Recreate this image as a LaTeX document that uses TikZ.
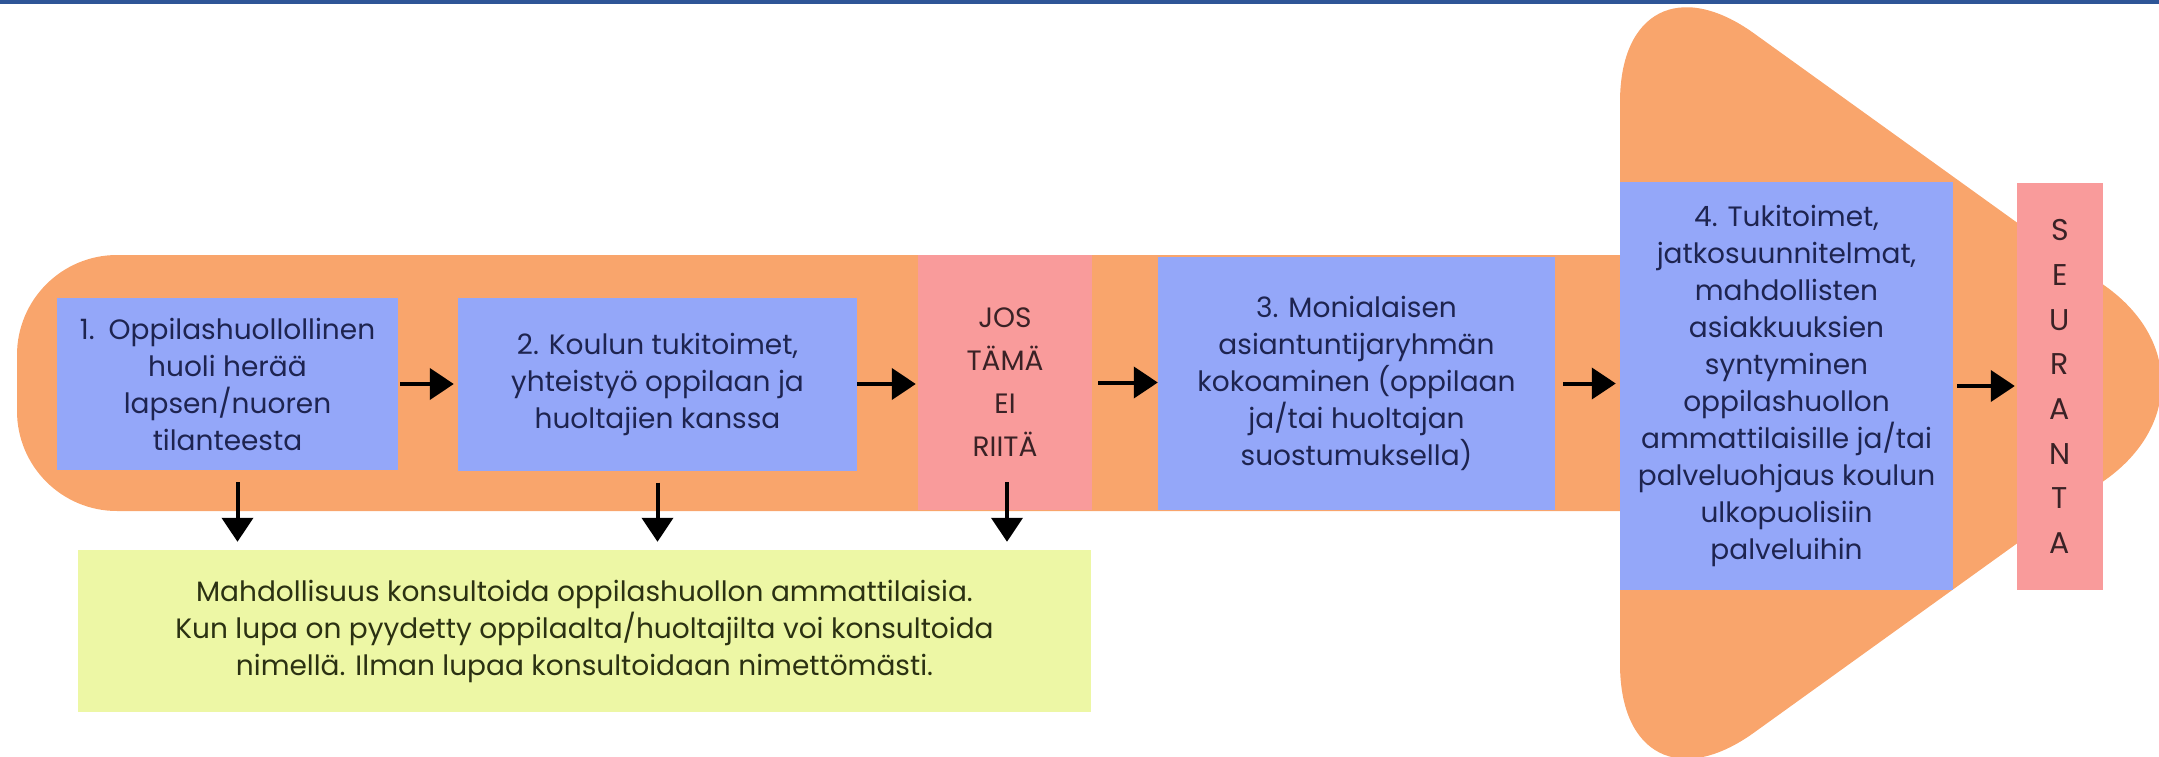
\documentclass[tikz,border=0pt]{standalone}
\usepackage{fontspec}
\setmainfont{Poppins}
\usetikzlibrary{arrows.meta,calc}
\definecolor{band}{HTML}{F9A56C}
\definecolor{stepblue}{HTML}{94A7F9}
\definecolor{stoppink}{HTML}{F99B9B}
\definecolor{notegreen}{HTML}{EDF7A5}
\definecolor{navy}{HTML}{1E2450}
\definecolor{maroon}{HTML}{3A2226}
\definecolor{olive}{HTML}{2B3112}
\definecolor{topline}{HTML}{2E5597}
\begin{document}
\begin{tikzpicture}[x=1pt,y=-1pt,>={Triangle[length=24pt,width=31pt]},
  blu/.style={fill=stepblue,text=navy,align=center,inner sep=0pt,font=\fontsize{28}{37}\selectfont},
  pnk/.style={fill=stoppink,text=maroon,align=center,inner sep=0pt},
  arr/.style={->,line width=4pt}]
\useasboundingbox (0,0) rectangle (2159,757);
\fill[topline] (0,0) rectangle (2159,4);
\fill[band,rounded corners=100] (17,255) rectangle (1800,511);
\fill[band,rounded corners=165] (1620,383) -- (1620,-63) -- (2240,383) -- (1620,829) -- cycle;
\node (b1) at (227.5,384)[blu,minimum width=341,minimum height=172]{1.\hspace{0.5em}Oppilashuollollinen\\huoli herää\\lapsen/nuoren\\tilanteesta};
\node (b2) at (657.5,384)[blu,minimum width=399,minimum height=173]{2. Koulun tukitoimet,\\yhteistyö oppilaan ja\\huoltajien kanssa};
\node (jos) at (1005,382.5)[pnk,minimum width=174,minimum height=255,font=\fontsize{28}{43}\selectfont]{JOS\\TÄMÄ\\EI\\RIITÄ};
\node (b3) at (1356.5,383.5)[blu,minimum width=397,minimum height=253]{3. Monialaisen\\asiantuntijaryhmän\\kokoaminen (oppilaan\\ja/tai huoltajan\\suostumuksella)};
\node (b4) at (1786.5,386)[blu,minimum width=333,minimum height=408]{4. Tukitoimet,\\jatkosuunnitelmat,\\mahdollisten\\asiakkuuksien\\syntyminen\\oppilashuollon\\ammattilaisille ja/tai\\palveluohjaus koulun\\ulkopuolisiin\\palveluihin};
\node (seur) at (2060,386.5)[pnk,minimum width=86,minimum height=407,font=\fontsize{30}{44.7}\selectfont]{S\\E\\U\\R\\A\\N\\T\\A};
\node (note) at (584.5,631)[fill=notegreen,text=olive,align=center,minimum width=1013,minimum height=162,font=\fontsize{28}{37}\selectfont]{Mahdollisuus konsultoida oppilashuollon ammattilaisia.\\Kun lupa on pyydetty oppilaalta/huoltajilta voi konsultoida\\nimellä. Ilman lupaa konsultoidaan nimettömästi.};
\draw[arr,shorten <=2pt,shorten >=4pt] (b1.east) -- (b1.east -| b2.west);
\draw[arr,shorten >=2pt] (b2.east) -- (b2.east -| jos.west);
\draw[arr,shorten <=6pt] (jos.east) -- (jos.east -| b3.west);
\draw[arr,shorten <=8pt,shorten >=4pt] (b3.east) -- (b3.east -| b4.west);
\draw[arr,shorten <=4pt,shorten >=2pt] (b4.east) -- (b4.east -| seur.west);
\draw[arr] ($(b1.south)+(10,12)$) -- ($(b1.south |- note.north)+(10,-8)$);
\draw[arr] ($(b2.south)+(0,12)$) -- ($(b2.south |- note.north)+(0,-8)$);
\draw[arr] ($(jos.south)+(2,-28)$) -- ($(jos.south |- note.north)+(2,-8)$);
\end{tikzpicture}
\end{document}
